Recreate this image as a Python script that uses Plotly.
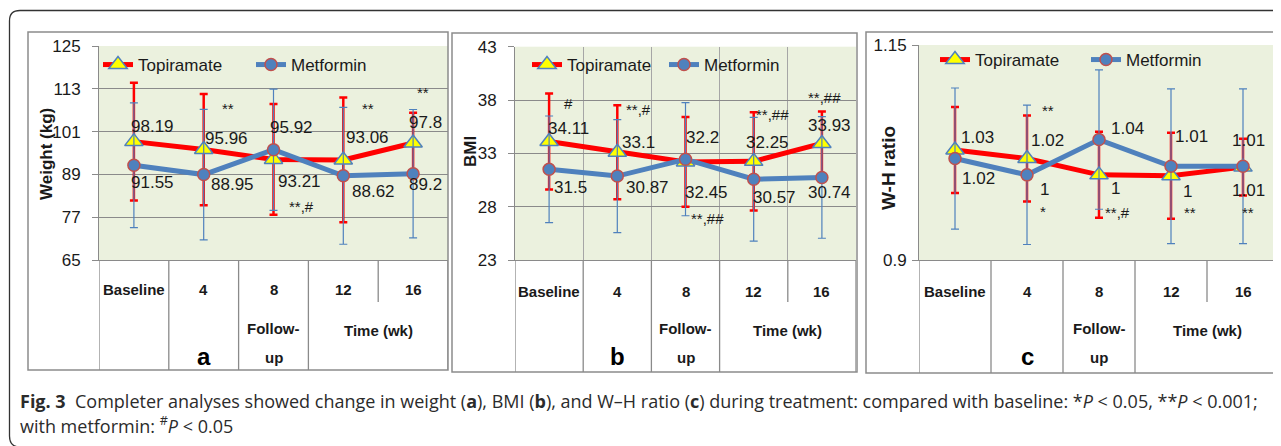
import plotly.graph_objects as go

# ---------------- data ----------------
categories = ["Baseline", "4", "8", "12", "16"]
series_names = ["Topiramate", "Metformin"]

weight_topiramate = [98.19, 95.96, 93.21, 93.06, 97.8]
weight_metformin = [91.55, 88.95, 95.92, 88.62, 89.2]
weight_topiramate_sd = [16.5, 15.6, 15.5, 17.5, 8.5]
weight_metformin_sd = [17.5, 18.3, 17.0, 19.2, 18.0]

bmi_topiramate = [34.11, 33.1, 32.2, 32.25, 33.93]
bmi_metformin = [31.5, 30.87, 32.45, 30.57, 30.74]
bmi_topiramate_sd = [4.5, 4.4, 4.2, 4.6, 3.0]
bmi_metformin_sd = [5.0, 5.3, 5.3, 5.8, 5.7]

whr_topiramate = [1.028, 1.018, 0.999, 0.998, 1.008]
whr_metformin = [1.018, 0.999, 1.040, 1.009, 1.009]
whr_topiramate_sd = [0.05, 0.05, 0.05, 0.05, 0.033]
whr_metformin_sd = [0.082, 0.081, 0.081, 0.09, 0.09]

weight_ticks = [65, 77, 89, 101, 113, 125]
bmi_ticks = [23, 28, 33, 38, 43]
whr_ticks = [0.9, 1.15]

weight_sig = ["", "**", "**,#", "**", "**"]
bmi_sig = ["#", "**,#", "**,##", "**,##", "**,##"]
whr_sig_upper = ["", "**", "", "", ""]
whr_sig_lower = ["", "*", "**,#", "**", "**"]

y_titles = ["Weight (kg)", "BMI", "W-H ratio"]
panel_letters = ["a", "b", "c"]

# ---------------- geometry / styles ----------------
OFF = 8                      # page body margin
W, H = 1281 - OFF, 446 - OFF


def px(x):
    return (x - OFF) / W


def py(y):
    return 1 - (y - OFF) / H


RED = "#FF0000"
BLUE = "#4F81BD"
GRID = "#8a8a8a"
BORDER = "#8c8c8c"
TXT = "#1a1a1a"
FONT = "Liberation Sans, Arial, sans-serif"

panels = [
    dict(
        plot=(99, 448, 46, 260), border=(28, 448, 32, 370),
        yrange=[65, 125], ticks=weight_ticks, standoff=8,
        top=weight_topiramate, met=weight_metformin,
        top_sd=weight_topiramate_sd, met_sd=weight_metformin_sd,
        top_off=[(19, -15), (23, -11), (26, 22), (24, -22), (12, -21)],
        met_off=[(19, 17), (29, 10), (18, -22), (30, 16), (12, 11)],
        sig=[(weight_sig, [None, 107.6, 79.9, 107.6, 112.1], [0, 24, 28, 25, 10])],
        ytitle_pos=(47, 154), ytitle_size=17, cat_y=289, vgrid=False,
        legend=(98, 65), entry=108,
    ),
    dict(
        plot=(515, 856, 46.7, 260), border=(452, 857, 33, 372),
        yrange=[23, 43], ticks=bmi_ticks, standoff=8,
        top=bmi_topiramate, met=bmi_metformin,
        top_sd=bmi_topiramate_sd, met_sd=bmi_metformin_sd,
        top_off=[(19, -13), (21, -10), (17, -24), (14, -19), (8, -18)],
        met_off=[(21, 18), (30, 11), (21, 33), (21, 18), (8, 15)],
        sig=[(bmi_sig, [37.7, 37.07, 26.9, 36.6, 38.2], [19, 21, 22, 19, 3])],
        ytitle_pos=(470, 152), ytitle_size=17, cat_y=291, vgrid=True,
        legend=(527, 65), entry=92,
    ),
    dict(
        plot=(919, 1279, 45, 260), border=(866, 1280, 32, 373),
        yrange=[0.9, 1.15], ticks=whr_ticks, standoff=2,
        top=whr_topiramate, met=whr_metformin,
        top_sd=whr_topiramate_sd, met_sd=whr_metformin_sd,
        top_off=[(22, -12), (20, -18), (16, 14), (16, 16), (5, 23)],
        met_off=[(23, 20), (17, 15), (28, -11), (20, -30), (5, -26)],
        sig=[(whr_sig_upper, [None, 1.0744, None, None, None], [0, 21, 0, 0, 0]),
             (whr_sig_lower, [None, 0.956, 0.955, 0.955, 0.955], [0, 16, 18, 19, 5])],
        ytitle_pos=(888, 168), ytitle_size=19, cat_y=291, vgrid=False,
        legend=(935, 60), entry=106,
    ),
]

fig = go.Figure()
layout = dict(
    width=W, height=H, margin=dict(l=0, r=0, t=0, b=0, autoexpand=False),
    paper_bgcolor="white", plot_bgcolor="#EBF1DE",
    font=dict(family=FONT, color=TXT, size=17),
    showlegend=True,
)
shapes = []
annotations = []


def fmt(v):
    return f"{round(v, 2):g}"


def note(**kw):
    kw.setdefault("showarrow", False)
    kw.setdefault("xanchor", "center")
    kw.setdefault("yanchor", "middle")
    annotations.append(kw)


for i, p in enumerate(panels):
    sfx = "" if i == 0 else str(i + 1)
    xa, ya = "x" + sfx, "y" + sfx
    lg = "legend" + sfx
    x0, x1, y0, y1 = p["plot"]
    layout["xaxis" + sfx] = dict(
        domain=[px(x0), px(x1)], anchor=ya, type="category",
        categoryorder="array", categoryarray=categories,
        range=[-0.5, 4.5], showticklabels=False, ticks="",
        showgrid=p["vgrid"], tickson="boundaries", gridcolor="#a6a6a6", gridwidth=1,
        showline=True, linecolor=GRID, linewidth=1, zeroline=False,
        fixedrange=True, automargin=False,
    )
    layout["yaxis" + sfx] = dict(
        domain=[py(y1), py(y0)], anchor=xa, range=p["yrange"],
        tickvals=p["ticks"], ticktext=[f"{t:g}" for t in p["ticks"]],
        showgrid=True, gridcolor=GRID, gridwidth=1,
        ticks="outside", ticklen=6, tickcolor=GRID,
        ticklabelstandoff=p["standoff"],
        showline=True, linecolor=GRID, linewidth=1, zeroline=False,
        tickfont=dict(size=17, color=TXT), fixedrange=True, automargin=False,
    )
    lx, lyy = p["legend"]
    layout[lg] = dict(
        x=px(lx), y=py(lyy), xanchor="left", yanchor="middle",
        orientation="h", bgcolor="rgba(0,0,0,0)", borderwidth=0,
        font=dict(size=17, color=TXT), entrywidth=p["entry"], entrywidthmode="pixels",
        tracegroupgap=0, itemclick=False, itemdoubleclick=False,
    )

    fig.add_trace(go.Scatter(
        x=categories, y=p["top"], name=series_names[0], mode="lines+markers",
        line=dict(color=RED, width=5),
        marker=dict(symbol="triangle-up", size=16, color="#FFFF00",
                    line=dict(color=BLUE, width=1.5)),
        error_y=dict(type="data", array=p["top_sd"], visible=True,
                     color=RED, thickness=2.5, width=4),
        xaxis=xa, yaxis=ya, legend=lg, hoverinfo="skip",
    ))
    fig.add_trace(go.Scatter(
        x=categories, y=p["met"], name=series_names[1], mode="lines+markers",
        line=dict(color=BLUE, width=5),
        marker=dict(symbol="circle", size=12, color=BLUE,
                    line=dict(color="#C0504D", width=1.5)),
        error_y=dict(type="data", array=p["met_sd"], visible=True,
                     color=BLUE, thickness=1.2, width=4),
        xaxis=xa, yaxis=ya, legend=lg, hoverinfo="skip",
    ))

    # data labels (x given as category index)
    for vals, offs in ((p["top"], p["top_off"]), (p["met"], p["met_off"])):
        for k, (v, (dx, dy)) in enumerate(zip(vals, offs)):
            note(x=k, y=v, xref=xa, yref=ya, text=fmt(v),
                 xshift=dx, yshift=-dy, font=dict(size=17, color=TXT))
    # significance markers
    for labels, ys, dxs in p["sig"]:
        for k, (lab, yv, dx) in enumerate(zip(labels, ys, dxs)):
            if lab and yv is not None:
                note(x=k, y=yv, xref=xa, yref=ya, text=lab,
                     xshift=dx, font=dict(size=15, color=TXT))

    # panel border
    bx0, bx1, by0, by1 = p["border"]
    shapes.append(dict(type="rect", xref="paper", yref="paper",
                       x0=px(bx0), x1=px(bx1), y0=py(by1), y1=py(by0),
                       line=dict(color=BORDER, width=1.5), fillcolor="rgba(0,0,0,0)", layer="below"))
    # category table lines
    for b in [-0.5, 0.5, 1.5, 2.5, 4.5]:
        shapes.append(dict(type="line", xref=xa, yref="paper", x0=b, x1=b,
                           y0=py(y1), y1=py(by1), line=dict(color=GRID, width=1.3)))
    shapes.append(dict(type="line", xref=xa, yref="paper", x0=3.5, x1=3.5,
                       y0=py(y1), y1=py(302), line=dict(color=GRID, width=1.3)))
    # category labels
    for k, c in enumerate(categories):
        note(x=k, y=py(p["cat_y"]), xref=xa, yref="paper", text=f"<b>{c}</b>",
             font=dict(size=15, color=TXT))
    note(x=2, y=py(y1 + 68), xref=xa, yref="paper", text="<b>Follow-</b>",
         font=dict(size=15, color=TXT))
    note(x=2, y=py(y1 + 97), xref=xa, yref="paper", text="<b>up</b>",
         font=dict(size=15, color=TXT))
    note(x=3.5, y=py(y1 + 70), xref=xa, yref="paper", text="<b>Time (wk)</b>",
         font=dict(size=15, color=TXT))
    note(x=1, y=py(y1 + 96), xref=xa, yref="paper", text=f"<b>{panel_letters[i]}</b>",
         font=dict(size=24, color="black", family="Liberation Sans, Arial"))
    # y title
    tx, ty = p["ytitle_pos"]
    note(x=px(tx), y=py(ty), xref="paper", yref="paper",
         text=f"<b>{y_titles[i]}</b>", textangle=-90,
         font=dict(size=p["ytitle_size"], color=TXT))

# outer rounded frame
shapes.append(dict(type="path", xref="paper", yref="paper",
                   path=f"M {px(1300)},{py(10.5)} L {px(20)},{py(10.5)} "
                        f"Q {px(9.5)},{py(10.5)} {px(9.5)},{py(21)} L {px(9.5)},{py(436)} "
                        f"Q {px(9.5)},{py(447)} {px(20)},{py(447)}",
                   line=dict(color="#333333", width=1.3)))

# caption
CAP = "Open Sans, Noto Sans, sans-serif"
note(x=px(18), y=py(401), xref="paper", yref="paper", xanchor="left",
     align="left", font=dict(family=CAP, size=18, color="#2b2b2b"),
     text="<b>Fig. 3</b>  Completer analyses showed change in weight (<b>a</b>), BMI (<b>b</b>), "
          "and W\u2013H ratio (<b>c</b>) during treatment: compared with baseline: "
          "*<i>P</i> &lt; 0.05, **<i>P</i> &lt; 0.001;")
note(x=px(18), y=py(425), xref="paper", yref="paper", xanchor="left",
     align="left", font=dict(family=CAP, size=18, color="#2b2b2b"),
     text="with metformin: <sup>#</sup><i>P</i> &lt; 0.05")

layout["shapes"] = shapes
layout["annotations"] = annotations
fig.update_layout(**layout)
fig.write_html("out.html")
